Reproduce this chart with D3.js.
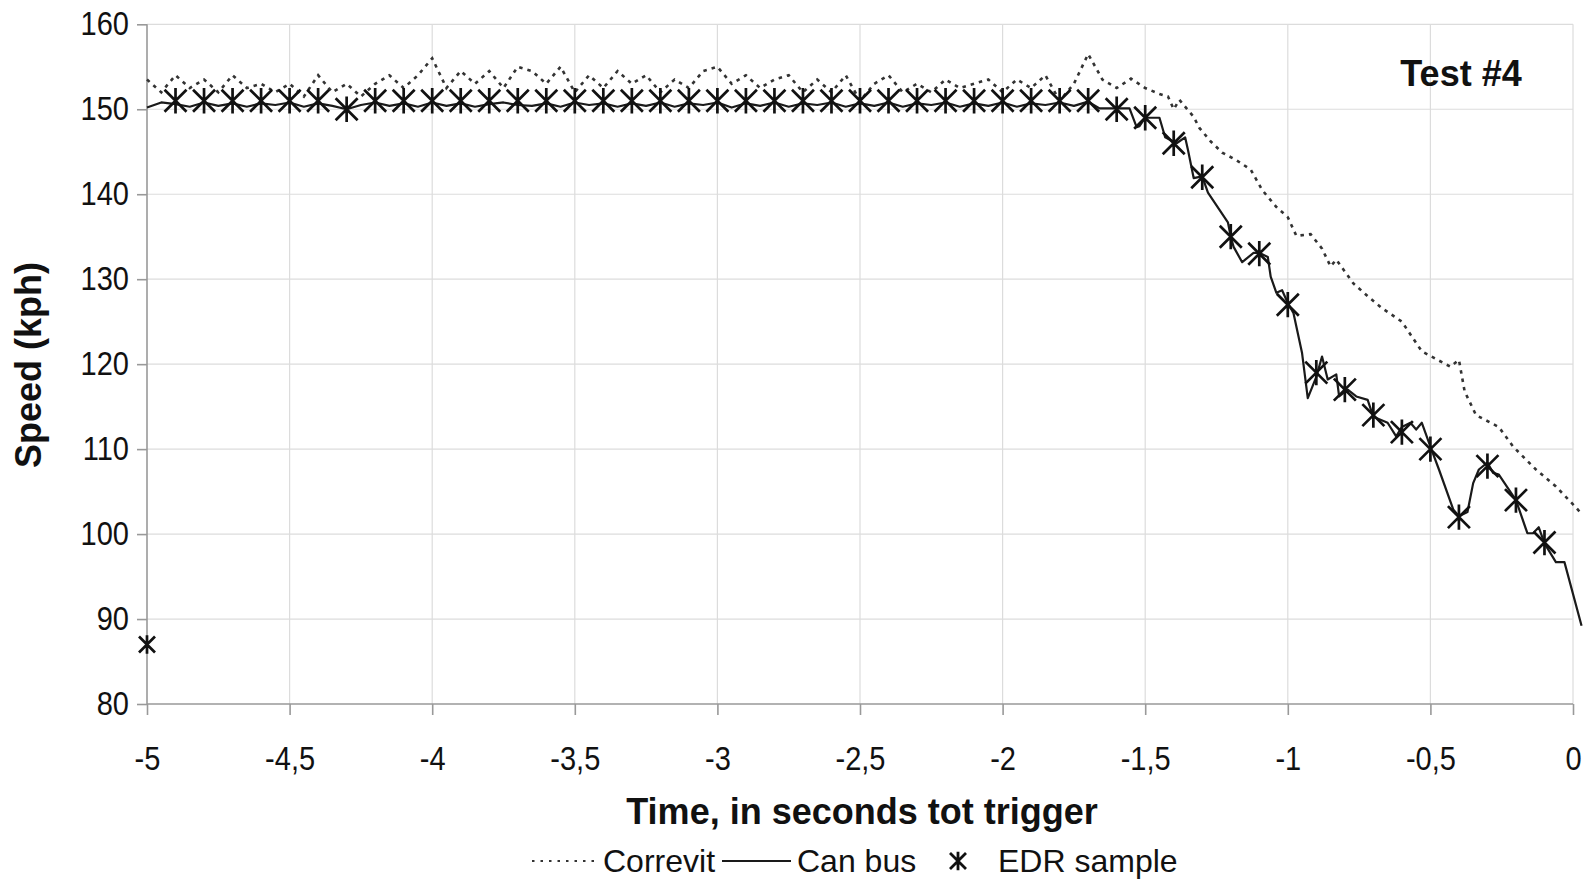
<!DOCTYPE html>
<html>
<head>
<meta charset="utf-8">
<script src="https://cdn.jsdelivr.net/npm/d3@7"></script>
<style>
  html, body { margin: 0; padding: 0; background: #fff; }
  svg { display: block; }
  text { font-family: "Liberation Sans", Arial, sans-serif; fill: #111; }
</style>
</head>
<body>
<svg id="chart" width="1589" height="879"></svg>
<script>
// Speed traces for test #4 (time in s relative to trigger, speed in kph)
const correvitT = [
  -5.00,-4.95,-4.90,-4.85,-4.80,-4.75,-4.70,-4.65,-4.60,-4.55,-4.50,-4.45,-4.40,-4.35,-4.30,-4.25,-4.20,-4.15,-4.10,-4.05,
  -4.00,-3.95,-3.90,-3.85,-3.80,-3.75,-3.70,-3.65,-3.60,-3.55,-3.50,-3.45,-3.40,-3.35,-3.30,-3.25,-3.20,-3.15,-3.10,-3.05,
  -3.00,-2.95,-2.90,-2.85,-2.80,-2.75,-2.70,-2.65,-2.60,-2.55,-2.50,-2.45,-2.40,-2.35,-2.30,-2.25,-2.20,-2.15,-2.10,-2.05,
  -2.00,-1.95,-1.90,-1.85,-1.80,-1.75,-1.70,-1.65,-1.60,
  -1.55,-1.50,-1.45,-1.42,-1.40,-1.38,-1.33,-1.31,-1.27,-1.23,-1.18,-1.13,-1.09,-1.04,-1.00,-0.97,-0.92,-0.88,-0.85,-0.83,
  -0.77,-0.72,-0.67,-0.60,-0.53,-0.43,-0.40,-0.38,-0.34,-0.26,-0.21,-0.13,-0.06,0.00,0.03
];
const correvitV = [
  153.5,152.0,154.0,152.5,153.5,152.0,154.0,152.5,153.0,152.0,153.0,151.5,154.0,152.0,153.0,151.5,153.0,154.0,152.5,154.0,
  156.0,152.5,154.5,153.0,154.5,152.5,155.0,154.5,153.0,155.0,152.0,154.0,152.5,154.5,153.0,154.0,152.0,153.5,152.5,154.5,
  155.0,153.0,154.0,152.5,153.5,154.0,152.0,153.5,152.0,154.0,151.0,153.0,154.0,152.0,153.0,152.0,153.5,152.5,153.0,153.5,
  152.0,153.5,152.5,154.0,151.0,153.0,156.5,153.5,152.5,
  153.6,152.5,151.8,151.5,150.0,151.1,149.1,147.8,146.2,144.9,144.0,142.9,140.5,138.5,137.3,135.1,135.3,133.6,131.5,132.3,
  129.5,128.0,126.6,125.0,121.5,119.7,120.5,116.8,114.0,112.6,110.3,107.6,105.6,103.5,102.4
];

const canBusT = [
  -5.00,-4.95,-4.90,-4.85,-4.80,-4.75,-4.70,-4.65,-4.60,-4.55,-4.50,-4.45,-4.40,-4.35,-4.30,-4.25,-4.20,-4.15,-4.10,-4.05,
  -4.00,-3.95,-3.90,-3.85,-3.80,-3.75,-3.70,-3.65,-3.60,-3.55,-3.50,-3.45,-3.40,-3.35,-3.30,-3.25,-3.20,-3.15,-3.10,-3.05,
  -3.00,-2.95,-2.90,-2.85,-2.80,-2.75,-2.70,-2.65,-2.60,-2.55,-2.50,-2.45,-2.40,-2.35,-2.30,-2.25,-2.20,-2.15,-2.10,-2.05,
  -2.00,-1.95,-1.90,-1.85,-1.80,-1.75,-1.70,
  -1.66,-1.555,-1.53,-1.52,-1.50,-1.45,-1.43,-1.39,-1.36,-1.35,-1.33,-1.30,-1.28,-1.21,-1.20,-1.19,-1.16,-1.12,-1.10,-1.07,
  -1.06,-1.04,-1.02,-1.00,-0.98,-0.95,-0.93,-0.90,-0.88,-0.86,-0.83,-0.82,-0.79,-0.76,-0.72,-0.70,-0.65,-0.62,-0.60,-0.57,
  -0.55,-0.53,-0.50,-0.47,-0.42,-0.40,-0.37,-0.35,-0.33,-0.30,-0.28,-0.26,-0.20,-0.16,-0.14,-0.12,-0.10,-0.06,-0.03,0.03
];
const canBusV = [
  150.2,150.8,150.6,150.3,150.8,150.4,150.7,150.3,150.7,150.5,150.8,150.3,150.7,150.4,150.0,150.5,150.8,150.4,150.7,150.3,
  150.8,150.4,150.7,150.3,150.6,150.8,150.5,150.4,150.7,150.3,150.8,150.5,150.7,150.3,150.7,150.4,150.8,150.3,150.7,150.5,
  150.8,150.2,150.7,150.4,150.8,150.3,150.7,150.5,150.8,150.3,150.7,150.4,150.8,150.3,150.7,150.5,150.8,150.3,150.7,150.4,
  150.8,150.3,150.7,150.5,150.8,150.4,150.9,
  150.1,150.1,147.9,148.0,149.0,149.0,146.7,146.0,146.7,145.2,141.9,142.1,140.2,136.7,135.0,133.8,132.0,133.1,133.1,132.6,
  130.3,128.4,128.7,127.2,126.0,121.3,116.0,118.5,120.9,118.2,118.8,116.2,117.0,116.2,115.8,113.8,113.1,111.5,112.6,113.1,
  112.3,113.1,110.3,107.6,102.9,102.1,102.6,106.0,107.6,108.4,107.2,107.0,104.0,100.1,100.1,100.8,98.9,96.7,96.7,89.2
];

const edrT = [
  -5.0,-4.9,-4.8,-4.7,-4.6,-4.5,-4.4,-4.3,-4.2,-4.1,-4.0,-3.9,-3.8,-3.7,-3.6,-3.5,-3.4,-3.3,-3.2,-3.1,
  -3.0,-2.9,-2.8,-2.7,-2.6,-2.5,-2.4,-2.3,-2.2,-2.1,-2.0,-1.9,-1.8,-1.7,-1.6,-1.5,-1.4,-1.3,-1.2,-1.1,
  -1.0,-0.9,-0.8,-0.7,-0.6,-0.5,-0.4,-0.3,-0.2,-0.1
];
const edrV = [
  87,151,151,151,151,151,151,150,151,151,151,151,151,151,151,151,151,151,151,151,
  151,151,151,151,151,151,151,151,151,151,151,151,151,151,150,149,146,142,135,133,
  127,119,117,114,112,110,102,108,104,99
];

const xTicks = [-5,-4.5,-4,-3.5,-3,-2.5,-2,-1.5,-1,-0.5,0];
const yTicks = [80,90,100,110,120,130,140,150,160];

const svg = d3.select("#chart");
const margin = { left: 147, right: 16, top: 24.3, bottom: 175 };
const W = 1589, H = 879;

const x = d3.scaleLinear().domain([-5, 0]).range([margin.left, W - margin.right]);
const y = d3.scaleLinear().domain([80, 160]).range([H - margin.bottom, margin.top]);

const fmt = d => String(d).replace(".", ",");

// grid
const grid = svg.append("g").attr("stroke", "#dcdcdc").attr("stroke-width", 1.2);
grid.selectAll("line.v").data(xTicks.slice(1)).join("line")
  .attr("x1", d => x(d)).attr("x2", d => x(d))
  .attr("y1", y(160)).attr("y2", y(80));
grid.selectAll("line.h").data(yTicks.slice(1)).join("line")
  .attr("x1", x(-5)).attr("x2", x(0))
  .attr("y1", d => y(d)).attr("y2", d => y(d));

// axes
const xAxis = d3.axisBottom(x).tickValues(xTicks).tickFormat(fmt).tickSize(11).tickPadding(32);
const yAxis = d3.axisLeft(y).tickValues(yTicks).tickSize(10).tickPadding(8);

const gx = svg.append("g").attr("transform", `translate(0,${y(80)})`).call(xAxis);
const gy = svg.append("g").attr("transform", `translate(${x(-5)},0)`).call(yAxis);
[gx, gy].forEach(g => {
  g.select(".domain").attr("stroke", "#999").attr("stroke-width", 1.6);
  g.selectAll(".tick line").attr("stroke", "#999").attr("stroke-width", 1.6);
  g.selectAll(".tick text").attr("font-size", 29).attr("fill", "#111")
    .attr("font-family", "'Liberation Sans', Arial, sans-serif")
    .each(function () {
      // slightly taller glyphs for the tick labels
      const t = d3.select(this);
      const tx = +t.attr("x") || 0, ty = +t.attr("y") || 0;
      t.attr("x", 0).attr("y", 0).attr("transform", `translate(${tx},${ty}) scale(1,1.13)`);
    });
});
gx.select(".domain").attr("d", `M${x(-5)},0H${x(0)}`);
gy.select(".domain").attr("d", `M0,${y(80)}V${y(160)}`);

const plot = svg.append("g");

// Correvit (dotted)
const corr = correvitT.map((t, i) => [t, correvitV[i]]);
plot.append("path").datum(corr)
  .attr("fill", "none").attr("stroke", "#333").attr("stroke-width", 2.6)
  .attr("stroke-dasharray", "3.5,5")
  .attr("d", d3.line().x(d => x(d[0])).y(d => y(d[1])));

// Can bus (solid)
const can = canBusT.map((t, i) => [t, canBusV[i]]);
plot.append("path").datum(can)
  .attr("fill", "none").attr("stroke", "#1a1a1a").attr("stroke-width", 2.2)
  .attr("stroke-linejoin", "round")
  .attr("d", d3.line().x(d => x(d[0])).y(d => y(d[1])));

// EDR samples as asterisk markers
const star = (cx, cy, r) =>
  `M${cx - r},${cy - r}L${cx + r},${cy + r}M${cx - r},${cy + r}L${cx + r},${cy - r}M${cx},${cy - r * 1.15}L${cx},${cy + r * 1.15}`;
const edr = edrT.map((t, i) => [t, edrV[i]]);
plot.selectAll("path.edr").data(edr).join("path")
  .attr("class", "edr")
  .attr("fill", "none").attr("stroke", "#111").attr("stroke-width", 2.7)
  .attr("d", d => star(x(d[0]), y(d[1]), d[0] === -5 ? 8 : 11));

// titles
svg.append("text").attr("x", 862).attr("y", 824).attr("text-anchor", "middle")
  .attr("font-size", 36).attr("font-weight", "bold").text("Time, in seconds tot trigger");
svg.append("text").attr("transform", `translate(41,365) rotate(-90)`).attr("text-anchor", "middle")
  .attr("font-size", 36).attr("font-weight", "bold").text("Speed (kph)");
svg.append("text").attr("x", 1461).attr("y", 86).attr("text-anchor", "middle")
  .attr("font-size", 36).attr("font-weight", "bold").text("Test #4");

// legend
const lg = svg.append("g");
const ly = 861;
lg.append("line").attr("x1", 532).attr("x2", 596).attr("y1", ly).attr("y2", ly)
  .attr("stroke", "#333").attr("stroke-width", 2).attr("stroke-dasharray", "2.5,6");
lg.append("text").attr("x", 603).attr("y", ly + 11).attr("font-size", 32).text("Correvit");
lg.append("line").attr("x1", 722).attr("x2", 791).attr("y1", ly).attr("y2", ly)
  .attr("stroke", "#1a1a1a").attr("stroke-width", 2);
lg.append("text").attr("x", 797).attr("y", ly + 11).attr("font-size", 32).text("Can bus");
lg.append("path").attr("fill", "none").attr("stroke", "#111").attr("stroke-width", 2.8)
  .attr("d", star(958, ly, 8));
lg.append("text").attr("x", 998).attr("y", ly + 11).attr("font-size", 32).text("EDR sample");
</script>
</body>
</html>
